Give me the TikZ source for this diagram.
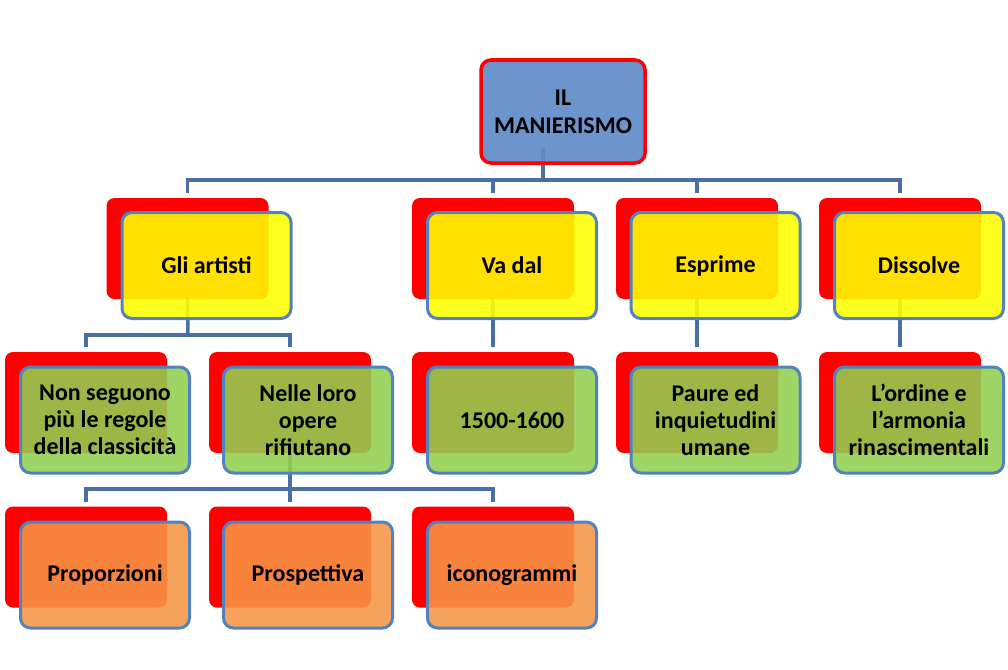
\documentclass[tikz,border=0pt]{standalone}
\usepackage{fontspec}
\setmainfont{Carlito}
\definecolor{connc}{RGB}{72,112,165}
\definecolor{frontb}{RGB}{82,131,190}
\definecolor{topfill}{RGB}{96,141,201}
\definecolor{boxyellow}{RGB}{255,255,0}
\definecolor{boxgreen}{RGB}{146,208,80}
\definecolor{boxorange}{RGB}{247,150,70}
\begin{document}
\begin{tikzpicture}[x=1pt,y=-1pt,
  conn/.style={draw=connc, line width=3.5pt},
  back/.style={fill=red, rounded corners=8pt, minimum width=162pt, minimum height=101pt, inner sep=0pt},
  front/.style={draw=frontb, line width=3pt, rounded corners=10pt, fill opacity=0.88, text opacity=1,
    minimum width=169pt, minimum height=106pt, inner sep=0pt, align=center,
    font=\bfseries\fontsize{24}{27}\selectfont},
  yel/.style={front, fill=boxyellow},
  grn/.style={front, fill=boxgreen},
  org/.style={front, fill=boxorange},
  topbox/.style={draw=red, line width=3.5pt, fill=topfill, rounded corners=10pt, fill opacity=0.92, text opacity=1,
    minimum width=164pt, minimum height=103pt, inner sep=0pt, align=center,
    font=\bfseries\fontsize{24}{28}\selectfont}]
\useasboundingbox[fill=white] (0,0) rectangle (1008,669);

% invisible frame of the top box, used to start its connector
\node[inner sep=0pt, minimum width=164pt, minimum height=103pt] (topref) at (563,111.5) {};

\coordinate (bus1) at (543,180);
\coordinate (bus2) at (188,335);
\coordinate (bus3) at (290,489);

% ----- back (red) boxes
\node[back] (gliR) at (187.5,248.5) {};
\node[back] (vaR)  at (493,248.5) {};
\node[back] (espR) at (697,248.5) {};
\node[back] (disR) at (900,248.5) {};
\node[back] (nonR) at (86,402.5) {};
\node[back] (nelR) at (290,402.5) {};
\node[back] (annR) at (493,402.5) {};
\node[back] (pauR) at (697,402.5) {};
\node[back] (ordR) at (900,402.5) {};
\node[back] (proR) at (86,557) {};
\node[back] (prsR) at (290,557) {};
\node[back] (icoR) at (493,557) {};

% ----- connectors (behind the front boxes)
\draw[conn] ([xshift=-20pt,yshift=15pt]topref.south) -- (bus1);
\draw[conn] (bus1) -| ([yshift=5pt]gliR.north);
\draw[conn] (bus1) -| ([yshift=5pt]vaR.north);
\draw[conn] (bus1) -| ([yshift=5pt]espR.north);
\draw[conn] (bus1) -| ([yshift=5pt]disR.north);
\draw[conn] (gliR.south) -- (bus2);
\draw[conn] (bus2) -| ([yshift=5pt]nonR.north);
\draw[conn] (bus2) -| ([yshift=5pt]nelR.north);
\draw[conn] (vaR.south) -- ([yshift=5pt]annR.north);
\draw[conn] (espR.south) -- ([yshift=5pt]pauR.north);
\draw[conn] (disR.south) -- ([yshift=5pt]ordR.north);
\draw[conn] (nelR.south) -- (bus3);
\draw[conn] (bus3) -| ([yshift=4pt]proR.north);
\draw[conn] (bus3) -| ([yshift=4pt]prsR.north);
\draw[conn] (bus3) -| ([yshift=4pt]icoR.north);

% ----- top box
\node[topbox] (top) at (563,111.5) {IL\\MANIERISMO};

% ----- front boxes
\node[yel] (gli) at (206.5,265.5) {Gli artisti};
\node[yel] (va)  at (512,265.5) {Va dal};
\node[yel] (esp) at (715.5,265.5) {Esprime};
\node[yel] (dis) at (919,265.5) {Dissolve};
\node[grn] (non) at (105,420) {Non seguono\\più le regole\\della classicità};
\node[grn] (nel) at (308,420) {Nelle loro\\opere\\rifiutano};
\node[grn] (ann) at (512,420) {1500-1600};
\node[grn] (pau) at (715.5,420) {Paure ed\\inquietudini\\umane};
\node[grn] (ord) at (919,420) {L’ordine e\\l’armonia\\rinascimentali};
\node[org] (pro) at (105,575) {Proporzioni};
\node[org] (prs) at (308,575) {Prospettiva};
\node[org] (ico) at (512,575) {iconogrammi};
\end{tikzpicture}
\end{document}
